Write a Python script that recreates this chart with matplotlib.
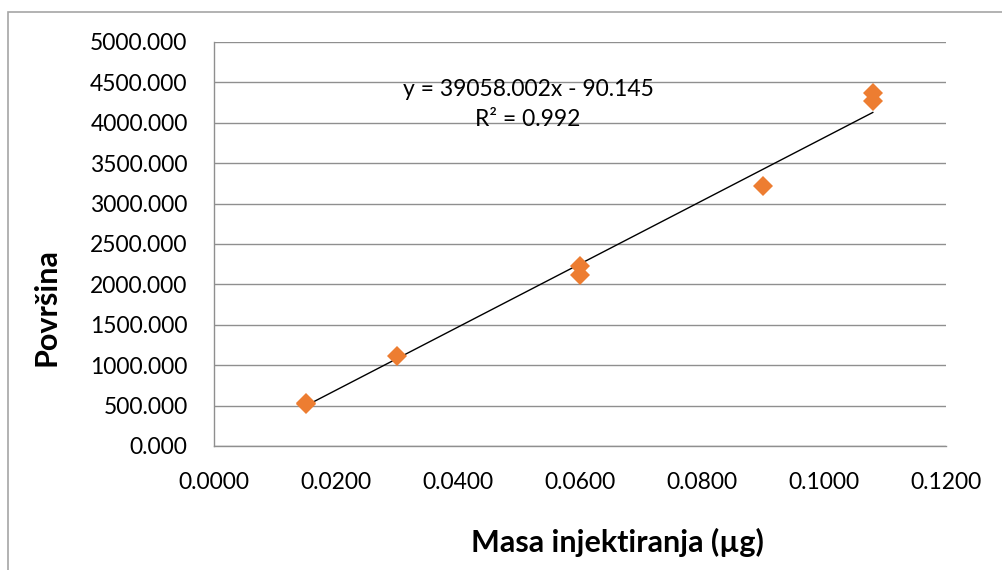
import matplotlib
matplotlib.use("Agg")
import matplotlib.pyplot as plt
from matplotlib.patches import Rectangle
from matplotlib.ticker import FuncFormatter, MultipleLocator
import numpy as np

# ── Data ───────────────────────────────────────────────────────────────────────
masa = [0.015, 0.015, 0.030, 0.060, 0.060, 0.090, 0.108, 0.108]
povrsina = [530, 515, 1120, 2228, 2116, 3222, 4365, 4273]

# Linear trendline as printed on the chart
slope = 39058.002
intercept = -90.145
r2 = 0.992

plt.rcParams["font.family"] = ["Lato", "DejaVu Sans"]

fig = plt.figure(figsize=(10.02, 5.70), dpi=100)
ax = fig.add_axes([214 / 1002, 1 - 446 / 570, (946 - 214) / 1002, (446 - 42) / 570])

# outer chart border (Excel style)
fig.patches.append(Rectangle((8 / 1002, -0.1), 1.2, 1 - 12 / 570 + 0.1,
                             transform=fig.transFigure, fill=False,
                             edgecolor="#a6a6a6", linewidth=1.2))

grid_c = "#8f8f8f"
ax.set_xlim(0, 0.12)
ax.set_ylim(0, 5000)
ax.xaxis.set_major_locator(MultipleLocator(0.02))
ax.yaxis.set_major_locator(MultipleLocator(500))
ax.xaxis.set_major_formatter(FuncFormatter(lambda v, _: f"{v:.4f}"))
ax.yaxis.set_major_formatter(FuncFormatter(lambda v, _: f"{v:.3f}"))
ax.grid(axis="y", color=grid_c, linewidth=1)
ax.set_axisbelow(True)
for side in ("top", "right"):
    ax.spines[side].set_visible(False)
for side in ("left", "bottom"):
    ax.spines[side].set_color(grid_c)
    ax.spines[side].set_linewidth(1)
ax.tick_params(length=0, labelsize=16.5, colors="black", pad=19)

# trendline across the data range
xs = np.array([min(masa), max(masa)])
ax.plot(xs, slope * xs + intercept, color="black", linewidth=1.0, zorder=2)

ax.plot(masa, povrsina, linestyle="none", marker="D", markersize=10,
        color="#ed7d31", markeredgewidth=0, zorder=3)

ax.text(0.0515, 4418, f"y = {slope:.3f}x - {abs(intercept):.3f}",
        ha="center", va="center", fontsize=16.5)
ax.text(0.0515, 4035, f"R² = {r2:.3f}", ha="center", va="center", fontsize=16.5)

fig.text(617 / 1002, 1 - 542 / 570, "Masa injektiranja (µg)", ha="center",
         va="center", fontsize=22, fontweight="bold")
fig.text(47 / 1002, 1 - 307 / 570, "Površina", ha="center", va="center",
         rotation=90, fontsize=22, fontweight="bold")

fig.savefig("out.png", dpi=100)
